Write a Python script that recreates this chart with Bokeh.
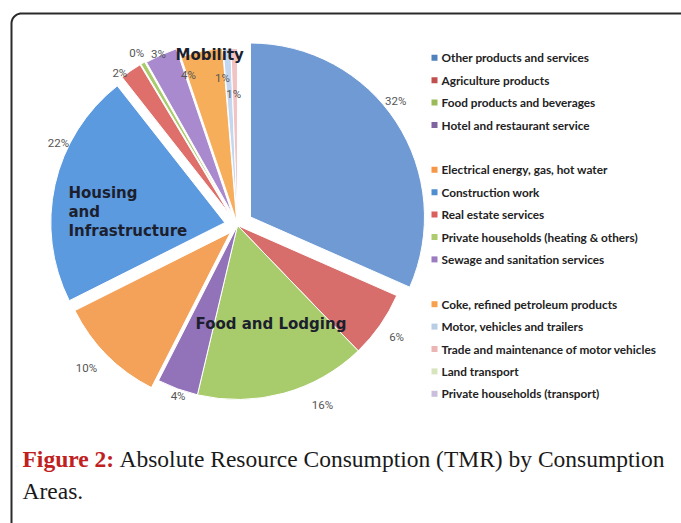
import numpy as np
from bokeh.plotting import figure
from bokeh.models import Range1d, ColumnDataSource
from bokeh.core.properties import value
from bokeh.embed import file_html
from bokeh.resources import INLINE

# ---------------- data ----------------
categories = [
    "Other products and  services",
    "Agriculture products",
    "Food products and beverages",
    "Hotel and restaurant service",
    "Electrical energy, gas, hot water",
    "Construction work",
    "Real estate services",
    "Private households  (heating & others)",
    "Sewage and sanitation services",
    "Coke, refined petroleum products",
    "Motor, vehicles and trailers",
    "Trade and maintenance of motor vehicles",
    "Land transport",
    "Private households  (transport)",
]
shares = [31.6, 6.2, 15.9, 3.8, 10.1, 21.8, 2.0, 0.4, 3.0, 3.9, 0.7, 0.6, 0.0, 0.0]
pct_labels = ["32%", "6%", "16%", "4%", "10%", "22%", "2%", "0%", "3%", "4%", "1%", "1%", "", ""]
legend_group = [0, 0, 0, 0, 1, 1, 1, 1, 1, 2, 2, 2, 2, 2]
area_names = ["Food and Lodging", ["Housing", "and", "Infrastructure"], "Mobility"]
caption_bold = "Figure 2:"
caption_lines = ["Absolute Resource Consumption (TMR) by Consumption", "Areas."]

# ---------------- styles ----------------
wedge_colors = ["#6F9AD3", "#D86E6B", "#A8CB6C", "#9272B8", "#F4A159", "#5C9AE0",
                "#DE6F6B", "#A8CB6C", "#A98ACF", "#F7AE5B", "#C4D7F0", "#F2C3C3",
                "#D7E4BD", "#CCC1DA"]
legend_colors = ["#4F81BD", "#C0504D", "#9BBB59", "#8064A2", "#F79646", "#4F8FD0",
                 "#D9605C", "#AFCB72", "#9A7CC0", "#F7A04E", "#B9CDE5", "#EBB5B4",
                 "#D7E4BD", "#C9BEDB"]
explode = [15.5, 0, 0, 0, 10, 13, 14, 14, 13, 4, 3, 3, 3, 3]
label_nudge_deg = [-5, 0, -10, -1, 1.4, 12, -3, 0, -0.6, -6.4, -2.4, -0.6, 0, 0]
label_radius = [201, 194, 199, 181, 208, 197, 193, 200, 189, 158, 148, 132, 0, 0]

W, H = 681, 523
def X(xs):
    return xs
def Y(ys):
    return H - ys

p = figure(width=W, height=H, x_range=Range1d(0, W), y_range=Range1d(0, H),
           output_backend="svg", toolbar_location=None, min_border=0,
           x_axis_type=None, y_axis_type=None)
p.grid.visible = False
p.outline_line_color = None
p.background_fill_color = "white"

# frame with rounded top-left corner
t = np.linspace(np.pi, np.pi / 2, 12)
fx = [X(11)] + list(X(21) + 10 * np.cos(t)) + [X(700)]
fy = [Y(540)] + list(Y(23) + 10 * np.sin(t)) + [Y(13)]
p.line(fx, fy, line_color="#2a2a2a", line_width=2)

# ---------------- pie ----------------
cx, cy, R = X(237), Y(225), 174
vals = np.array(shares, dtype=float)
frac = vals / vals.sum()
end_cw = np.cumsum(frac) * 2 * np.pi
start_cw = end_cw - frac * 2 * np.pi
mid = (start_cw + end_cw) / 2
ex = np.array(explode)
keep = vals > 0
src = ColumnDataSource(dict(
    x=(cx + ex * np.sin(mid))[keep],
    y=(cy + ex * np.cos(mid))[keep],
    start=(np.pi / 2 - end_cw)[keep],
    end=(np.pi / 2 - start_cw)[keep],
    color=np.array(wedge_colors)[keep],
))
p.wedge(x="x", y="y", radius=R, start_angle="start", end_angle="end",
        fill_color="color", line_color="white", line_width=1, source=src)

la = mid + np.radians(label_nudge_deg)
lr = np.array(label_radius)
lab = [i for i, s in enumerate(pct_labels) if s]
p.text(x=list((cx + lr * np.sin(la))[lab]), y=list((cy + lr * np.cos(la))[lab]),
       text=[pct_labels[i] for i in lab], text_align="center", text_baseline="middle",
       text_font=value("Roboto"), text_font_size="11.5px", text_color="#555555")

# area names
name_style = dict(text_align="left", text_baseline="alphabetic", text_font=value("DejaVu Sans"),
                  text_font_style="bold", text_font_size="15px", text_color="#1c1f2e")
p.text(x=[X(195)], y=[Y(323)], text=[area_names[0]], **name_style)
p.text(x=[X(68)] * 3, y=[Y(192), Y(211), Y(230)], text=area_names[1], **name_style)
p.text(x=[X(175)], y=[Y(54)], text=[area_names[2]], **name_style)

# ---------------- legend ----------------
slots = np.arange(len(categories)) + np.array(legend_group)
ly = Y(57.3 + 22.4 * slots)
p.scatter(x=[X(434)] * len(categories), y=list(ly), marker="square", size=6,
          fill_color=legend_colors, line_color=None)
p.text(x=[X(441)] * len(categories), y=list(ly), text=categories, text_align="left",
       text_baseline="middle", text_font=value("Lato"), text_font_style="bold",
       text_font_size="11.8px", text_color="#222222")

# ---------------- caption ----------------
cap = dict(text_align="left", text_baseline="alphabetic", text_font=value("Liberation Serif"),
           text_font_size="23.5px")
p.text(x=[X(22)], y=[Y(458)], text=[caption_bold], text_font_style="bold",
       text_color="#C0201E", **cap)
p.text(x=[X(119)], y=[Y(458)], text=[caption_lines[0]], text_color="#1a1a1a", **cap)
p.text(x=[X(22)], y=[Y(490)], text=[caption_lines[1]], text_color="#1a1a1a", **cap)

open("out.html", "w").write(file_html(p, INLINE))
